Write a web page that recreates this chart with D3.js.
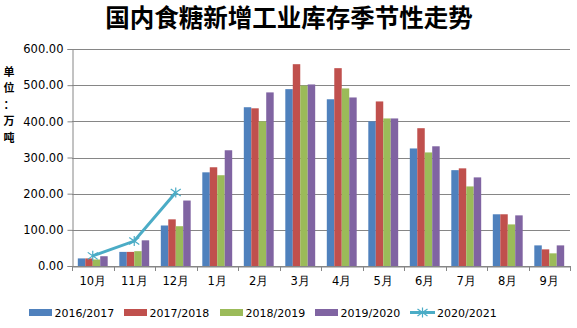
<!DOCTYPE html>
<html><head><meta charset="utf-8">
<script src="https://cdn.jsdelivr.net/npm/d3@7"></script>
<style>body{margin:0;background:#fff}svg{display:block}</style>
</head><body>
<script>
const categories = ["10月","11月","12月","1月","2月","3月","4月","5月","6月","7月","8月","9月"];
const barSeriesNames = ["2016/2017","2017/2018","2018/2019","2019/2020"];
const s2016 = [21,39,112,259,439,489,461,400,325,265,143,57];
const s2017 = [21,39,129,273,436,558,547,455,381,270,143,46];
const s2018 = [18,41,110,251,400,499,491,408,314,220,115,35];
const s2019 = [27,71,181,320,480,502,466,408,331,245,140,57];
const lineName = "2020/2021";
const s2020 = [28,69,203];
const yTicks = [0,100,200,300,400,500,600];
const colors = ["#4F81BD","#C0504D","#9BBB59","#8064A2"];
const lineColor = "#4BACC6";

const W=577,H=328;
const svg=d3.select("body").append("svg").attr("width",W).attr("height",H);
const m={l:72,r:7,t:49,b:62};
const x=d3.scaleBand().domain(categories).range([m.l,W-m.r]).paddingInner(0.28).paddingOuter(0.14);
const xb=d3.scaleBand().domain(categories).range([m.l,W-m.r]);
const y=d3.scaleLinear().domain([0,600]).range([H-m.b,m.t]);
const x1=d3.scaleBand().domain(barSeriesNames).range([0,x.bandwidth()]);

svg.append("text").attr("x",289).attr("y",27).attr("text-anchor","middle")
 .attr("font-family","Noto Sans CJK SC").attr("font-weight","bold").attr("font-size",24.5).text("国内食糖新增工业库存季节性走势");

// grid
svg.append("g").selectAll("line").data(yTicks).join("line")
 .attr("x1",m.l).attr("x2",W-m.r).attr("y1",d=>Math.round(y(d))+0.5).attr("y2",d=>Math.round(y(d))+0.5)
 .attr("stroke","#868686").attr("stroke-width",1);
// y axis
const ya=svg.append("g").attr("transform",`translate(${m.l+0.5},0)`)
 .call(d3.axisLeft(y).tickValues(yTicks).tickFormat(d3.format(".2f")).tickSize(5));
ya.selectAll("path,line").attr("stroke","#868686");
ya.selectAll("text").attr("font-family","Verdana, DejaVu Sans").attr("font-size",11.5).attr("fill","#000").attr("x",-9);
// y label (one character per line)
const yl=["单","位","：","万","吨"];
svg.append("g").attr("text-anchor","middle")
 .attr("font-family","Noto Sans CJK SC").attr("font-weight","bold").attr("font-size",11)
 .selectAll("text").data(yl).join("text")
 .attr("x",9).attr("y",(d,i)=>76+i*16.4).text(d=>d);

// bars
const all=[s2016,s2017,s2018,s2019];
all.forEach((arr,si)=>{
 svg.append("g").selectAll("rect").data(arr).join("rect")
  .attr("x",(d,i)=>x(categories[i])+x1(barSeriesNames[si]))
  .attr("width",x1.bandwidth())
  .attr("y",d=>y(d)).attr("height",d=>y(0)-y(d)).attr("fill",colors[si]);
});
// x axis
const xa=svg.append("g").attr("transform",`translate(0,${Math.round(y(0))+0.5})`)
 .call(d3.axisBottom(xb).tickSize(0).tickPadding(10));
xa.select("path").attr("stroke","#868686");
xa.selectAll("text").attr("font-family","Verdana, DejaVu Sans").attr("font-size",11.5).attr("fill","#000");
svg.append("g").selectAll("line").data(d3.range(categories.length+1)).join("line")
 .attr("x1",i=>Math.round(m.l+i*xb.step())+0.5).attr("x2",i=>Math.round(m.l+i*xb.step())+0.5)
 .attr("y1",y(0)).attr("y2",y(0)+5).attr("stroke","#868686");

// line
const lx=(d,i)=>xb(categories[i])+xb.bandwidth()/2;
svg.append("path").datum(s2020).attr("fill","none").attr("stroke",lineColor).attr("stroke-width",3)
 .attr("d",d3.line().x(lx).y(d=>y(d)));
function star(g,cx,cy,r){
 const a=[[0,-r,0,r],[-r,-r*0.7,r,r*0.7],[-r,r*0.7,r,-r*0.7]];
 a.forEach(s=>g.append("line").attr("x1",cx+s[0]).attr("y1",cy+s[1]).attr("x2",cx+s[2]).attr("y2",cy+s[3]).attr("stroke",lineColor).attr("stroke-width",1.2));
}
const mg=svg.append("g");
s2020.forEach((d,i)=>star(mg,lx(d,i),y(d),5));

// legend
const lg=svg.append("g").attr("font-family","Verdana, DejaVu Sans").attr("font-size",11);
const lpos=[29,124,220,315];
barSeriesNames.forEach((n,i)=>{
 lg.append("rect").attr("x",lpos[i]).attr("y",309).attr("width",23).attr("height",7).attr("fill",colors[i]);
 lg.append("text").attr("x",lpos[i]+25.5).attr("y",317).text(n);
});
lg.append("line").attr("x1",410).attr("x2",435).attr("y1",312.5).attr("y2",312.5).attr("stroke",lineColor).attr("stroke-width",3);
star(lg,422.5,312.5,5);
lg.append("text").attr("x",437).attr("y",317).text(lineName);
</script>
</body></html>
